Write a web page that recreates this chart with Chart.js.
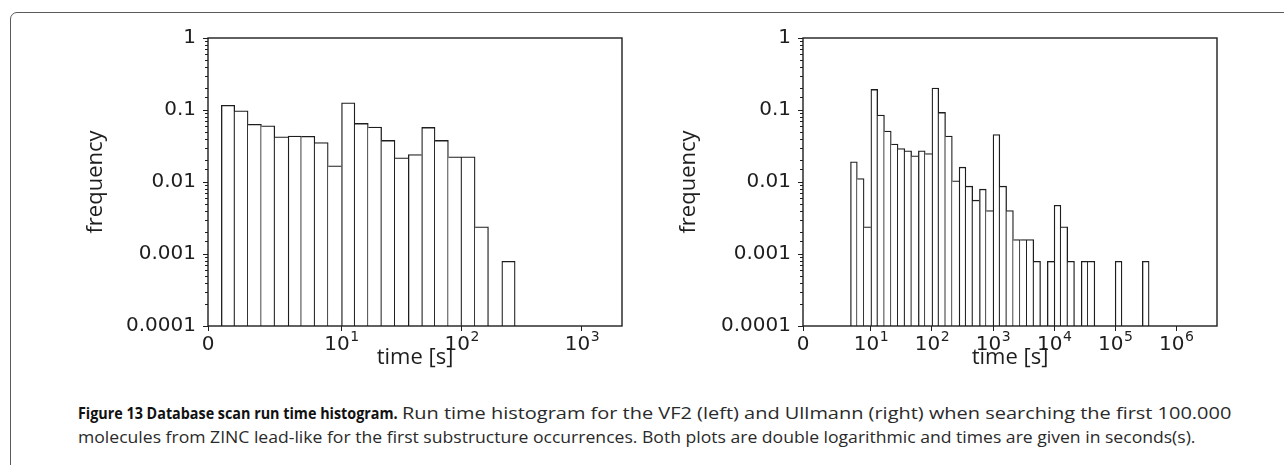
<!DOCTYPE html>
<html>
<head>
<meta charset="utf-8">
<script src="https://cdn.jsdelivr.net/npm/chart.js@4.4.1/dist/chart.umd.min.js"></script>
<style>
  html, body { margin:0; padding:0; background:#fff; width:1284px; height:465px; overflow:hidden; position:relative; }
  #frame { position:absolute; left:10px; top:12px; width:1300px; height:500px; border:1.5px solid #5a5a5a; border-radius:7px; box-sizing:border-box; }
  .chart { position:absolute; }
  .cap { position:absolute; font-family:'Open Sans', 'Noto Sans', sans-serif; font-size:16px; line-height:20px; color:#2a2a2a; white-space:nowrap; transform-origin:0 0; }
  .cap.b { font-weight:700; color:#111; }
</style>
</head>
<body>
<div id="frame"></div>
<div class="chart" style="left:83px; top:19px;"><canvas id="c1" width="557" height="355"></canvas></div>
<div class="chart" style="left:676px; top:19px;"><canvas id="c2" width="564" height="355"></canvas></div>
<div class="cap b" id="s1" data-w="320" style="left:78px; top:403px;">Figure 13 Database scan run time histogram.</div>
<div class="cap" id="s2" data-w="829" style="left:402px; top:403px;">Run time histogram for the VF2 (left) and Ullmann (right) when searching the first 100.000</div>
<div class="cap" id="s3" data-w="1117" style="left:78px; top:427px;">molecules from ZINC lead-like for the first substructure occurrences. Both plots are double logarithmic and times are given in seconds(s).</div>
<script>
// ---- data (bins are 1/9 decade wide in log10(time); bin k starts at 10^(k/9) s) ----
const binsPerDecade = 9;

const vf2Bins = [0,1,2,3,4,5,6,7,8,9,10,11,12,13,14,15,16,17,18,19,21];
const vf2Freq = [0.116,0.0977,0.0631,0.0604,0.0425,0.0434,0.0430,0.0354,0.0168,0.126,
                 0.0651,0.0578,0.0378,0.0217,0.0241,0.0573,0.0378,0.0224,0.0224,0.00238,0.00079];

const ullBins = [6,7,8,9,10,11,12,13,14,15,16,17,18,19,20,21,22,23,24,25,26,27,28,29,30,31,32,33,
                 35,36,37,38,40,41,45,49];
const ullFreq = [0.0191,0.0112,0.00238,0.193,0.0849,0.0509,0.0336,0.0292,0.0271,0.0231,0.0271,0.0249,
                 0.2017,0.0925,0.0434,0.01038,0.01607,0.00875,0.00559,0.00795,0.00402,0.0457,0.00875,
                 0.00402,0.00159,0.00159,0.00159,0.00079,0.00079,0.00476,0.00238,0.00079,0.00079,
                 0.00079,0.00079,0.00079];

// x tick positions (in bin units; "0" sits one bin left of 10^0)
const leftXTicks  = [-1, 9, 18, 27];
const leftXLabels = ['0', '10^1', '10^2', '10^3'];
const leftXRange  = [-1, 30];
const rightXTicks  = [-1, 9, 18, 27, 36, 45, 54];
const rightXLabels = ['0', '10^1', '10^2', '10^3', '10^4', '10^5', '10^6'];
const rightXRange  = [-1, 60];

const yTickValues = [0.0001, 0.001, 0.01, 0.1, 1];
const yTickLabels = ['0.0001', '0.001', '0.01', '0.1', '1'];

const xTitle = 'time [s]';
const yTitle = 'frequency';

// ---- chart building ----
const INK = '#1e1e1e';
const TICK_FAMILY = "'DejaVu Sans', sans-serif";
const tickFont = { family: TICK_FAMILY, size: 20 };
const titleFont = { family: "'Open Sans', 'Noto Sans', sans-serif", size: 22 };

const isDecade = (v) => Math.abs(Math.log10(v) - Math.round(Math.log10(v))) < 1e-6;

const framePlugin = {
  id: 'frame',
  afterDraw(chart) {
    const { ctx, chartArea: a } = chart;
    ctx.save();
    ctx.strokeStyle = INK;
    ctx.lineWidth = 1.4;
    ctx.strokeRect(a.left, a.top, a.right - a.left, a.bottom - a.top);
    // shorter minor ticks on the log axis, at the scale's own tick values
    const ys = chart.scales.y;
    ctx.lineWidth = 1;
    ctx.beginPath();
    ys.ticks.forEach(t => {
      if (isDecade(t.value)) return;
      const y = Math.round(ys.getPixelForValue(t.value)) + 0.5;
      ctx.moveTo(a.left - 3, y);
      ctx.lineTo(a.left, y);
    });
    ctx.stroke();
    ctx.restore();
  }
};

// x tick labels with superscript exponents, placed at the scale's own tick pixels
const powerLabelPlugin = {
  id: 'powerLabels',
  afterDraw(chart) {
    const labels = chart.options.plugins.powerLabels.labels;
    const s = chart.scales.x;
    const ctx = chart.ctx;
    ctx.save();
    ctx.fillStyle = INK;
    ctx.textBaseline = 'alphabetic';
    s.ticks.forEach((t, i) => {
      const x = s.getPixelForTick(i);
      const y = s.top + 24;
      const [base, exp] = labels[i].split('^');
      ctx.font = `20px ${TICK_FAMILY}`;
      const wb = ctx.measureText(base).width;
      let we = 0;
      if (exp) { ctx.font = `14px ${TICK_FAMILY}`; we = ctx.measureText(exp).width; }
      const x0 = x - (wb + we) / 2;
      ctx.font = `20px ${TICK_FAMILY}`;
      ctx.textAlign = 'left';
      ctx.fillText(base, x0, y);
      if (exp) { ctx.font = `14px ${TICK_FAMILY}`; ctx.fillText(exp, x0 + wb + 0.5, y - 9); }
    });
    ctx.restore();
  }
};

function makeChart(id, bins, freq, xTicks, xLabels, xRange, yAxisWidth, padRight) {
  const data = bins.map((b, i) => ({ x: b + 0.5, y: freq[i] }));
  const W = 1.3;
  return new Chart(document.getElementById(id), {
    type: 'bar',
    data: {
      datasets: [{
        data,
        backgroundColor: '#fff',
        borderColor: INK,
        borderSkipped: 'start',
        borderWidth: (ctx) => {
          const i = ctx.dataIndex;
          const nextAdj = bins[i + 1] === bins[i] + 1;
          const prevAdj = bins[i - 1] === bins[i] - 1;
          const right = (!nextAdj || freq[i] >= freq[i + 1]) ? W : 0;
          const left = (!prevAdj || freq[i] > freq[i - 1]) ? W : 0;
          return { left, top: W, right, bottom: 0 };
        },
        barPercentage: 1,
        categoryPercentage: 1
      }]
    },
    options: {
      responsive: false,
      animation: false,
      layout: { padding: { top: 0, right: padRight, bottom: 3, left: 0 } },
      plugins: { legend: { display: false }, tooltip: { enabled: false }, powerLabels: { labels: xLabels } },
      scales: {
        x: {
          type: 'linear',
          min: xRange[0], max: xRange[1],
          offset: false,
          grid: { offset: false, drawOnChartArea: false, drawTicks: true, tickLength: 5, color: INK },
          border: { display: false },
          afterBuildTicks: (s) => { s.ticks = xTicks.map(v => ({ value: v })); },
          afterFit: (s) => { s.height = 45; },
          ticks: { display: false, autoSkip: false, maxRotation: 0 },
          title: { display: true, text: xTitle, color: INK, font: titleFont, padding: 0 }
        },
        y: {
          type: 'logarithmic',
          min: yTickValues[0], max: yTickValues[yTickValues.length - 1],
          grid: {
            drawOnChartArea: false, drawTicks: true, tickLength: 5,
            color: (c) => (c.tick && isDecade(c.tick.value)) ? INK : 'rgba(0,0,0,0)'
          },
          border: { display: false },
          afterFit: (s) => { s.width = yAxisWidth; },
          ticks: {
            autoSkip: false, padding: 7, color: INK, font: tickFont,
            callback: (v) => {
              const i = yTickValues.findIndex(t => Math.abs(Math.log10(v) - Math.log10(t)) < 1e-6);
              return i >= 0 ? yTickLabels[i] : '';
            }
          },
          title: { display: true, text: yTitle, color: INK, font: titleFont, padding: 0 }
        }
      }
    },
    plugins: [framePlugin, powerLabelPlugin]
  });
}

makeChart('c1', vf2Bins, vf2Freq, leftXTicks, leftXLabels, leftXRange, 125, 18);
makeChart('c2', ullBins, ullFreq, rightXTicks, rightXLabels, rightXRange, 127, 23);

// caption segments: fit each to its measured extent in the figure
function fitCaption() {
  document.querySelectorAll('.cap').forEach(el => {
    const w = el.offsetWidth;
    el.style.transform = 'scaleX(' + (parseFloat(el.dataset.w) / w) + ')';
  });
}
fitCaption();
if (document.fonts && document.fonts.ready) document.fonts.ready.then(fitCaption);
</script>
</body>
</html>
